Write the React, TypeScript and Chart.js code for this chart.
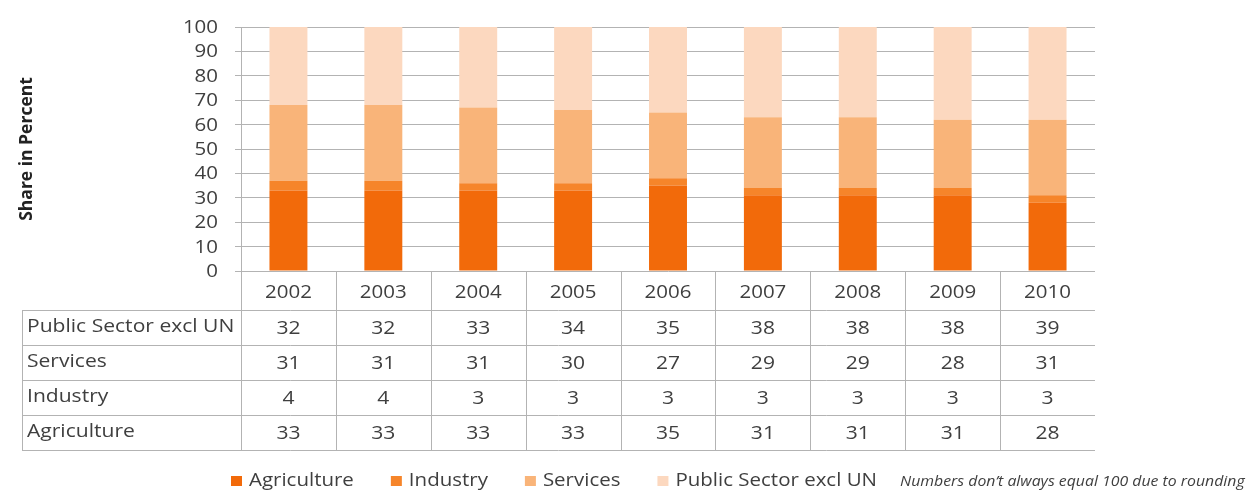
import React, { useEffect, useRef } from "react";
import { Chart, registerables } from "chart.js";

Chart.register(...registerables);

const years = ["2002", "2003", "2004", "2005", "2006", "2007", "2008", "2009", "2010"];
const agriculture = [33, 33, 33, 33, 35, 31, 31, 31, 28];
const industry = [4, 4, 3, 3, 3, 3, 3, 3, 3];
const services = [31, 31, 31, 30, 27, 29, 29, 28, 31];
const publicSector = [32, 32, 33, 34, 35, 38, 38, 38, 39];
const seriesNames = ["Agriculture", "Industry", "Services", "Public Sector excl UN"];
const seriesColors = ["#F26A0A", "#F6852A", "#F9B479", "#FCD8BF"];
const yTickValues = [0, 10, 20, 30, 40, 50, 60, 70, 80, 90, 100];
const yTitle = "Share in Percent";
const note = "Numbers don\u2019t always equal 100 due to rounding";

const FONT = "'Open Sans', 'Noto Sans', sans-serif";
const TEXT = "#3F3F3F";
const LINE = "#B3B3B3";
const STRETCH = 1.17;

function drawStretched(
  ctx: CanvasRenderingContext2D,
  text: string,
  x: number,
  y: number,
  align: "left" | "center" | "right",
  sx: number
) {
  const w = ctx.measureText(text).width * sx;
  let left = x;
  if (align === "center") left = x - w / 2;
  else if (align === "right") left = x - w;
  ctx.save();
  ctx.translate(left, y);
  ctx.scale(sx, 1);
  ctx.textAlign = "left";
  ctx.fillText(text, 0, 0);
  ctx.restore();
}

const tablePlugin = {
  id: "dataTable",
  afterDraw(chart: any) {
    const ctx = chart.ctx as CanvasRenderingContext2D;
    const area = chart.chartArea;
    const xs = chart.scales.x;
    const ys = chart.scales.y;
    const n = years.length;
    const colW = xs.getPixelForValue(1) - xs.getPixelForValue(0);
    const left = xs.getPixelForValue(0) - colW / 2;
    const right = area.right;
    const labelLeft = 22;
    const headerTop = area.bottom;
    const headerBottom = headerTop + 39;
    const rowH = 35;
    const rows = [
      { name: seriesNames[3], values: publicSector },
      { name: seriesNames[2], values: services },
      { name: seriesNames[1], values: industry },
      { name: seriesNames[0], values: agriculture },
    ];
    const tableBottom = headerBottom + rowH * rows.length;

    ctx.save();
    // y tick labels
    ctx.fillStyle = TEXT;
    ctx.textBaseline = "middle";
    ctx.font = `17.5px ${FONT}`;
    ys.ticks.forEach((t: any) => {
      drawStretched(ctx, String(t.value), 218, ys.getPixelForValue(t.value) + 1, "right", STRETCH);
    });

    ctx.strokeStyle = LINE;
    ctx.lineWidth = 1;
    for (let r = 0; r <= rows.length; r++) {
      const y = Math.round(headerBottom + r * rowH) + 0.5;
      ctx.beginPath();
      ctx.moveTo(labelLeft, y);
      ctx.lineTo(right, y);
      ctx.stroke();
    }
    for (let c = 0; c < n; c++) {
      const x = Math.round(left + c * colW) + 0.5;
      ctx.beginPath();
      ctx.moveTo(x, headerTop);
      ctx.lineTo(x, tableBottom);
      ctx.stroke();
    }
    ctx.beginPath();
    ctx.moveTo(labelLeft + 0.5, headerBottom);
    ctx.lineTo(labelLeft + 0.5, tableBottom);
    ctx.stroke();

    ctx.fillStyle = TEXT;
    ctx.font = `18px ${FONT}`;
    years.forEach((yr, i) => {
      drawStretched(ctx, yr, xs.getPixelForValue(i), (headerTop + headerBottom) / 2 + 2, "center", 1.14);
    });
    rows.forEach((row, r) => {
      const cy = headerBottom + r * rowH + rowH / 2;
      drawStretched(ctx, row.name, labelLeft + 5, cy - 1, "left", STRETCH);
      row.values.forEach((v, i) => {
        drawStretched(ctx, String(v), xs.getPixelForValue(i), cy + 1, "center", STRETCH);
      });
    });

    // legend
    const ly = 481;
    let lx = 231;
    ctx.font = `17.5px ${FONT}`;
    chart.data.datasets.forEach((ds: any) => {
      ctx.fillStyle = ds.backgroundColor;
      ctx.fillRect(lx, ly - 5, 11, 10);
      ctx.fillStyle = TEXT;
      drawStretched(ctx, ds.label, lx + 18, ly, "left", STRETCH);
      lx += 18 + ctx.measureText(ds.label).width * STRETCH + 37;
    });
    ctx.font = `italic 15px ${FONT}`;
    ctx.fillStyle = TEXT;
    drawStretched(ctx, note, 900, ly + 1, "left", 1.055);
    ctx.restore();
  },
};

export default function App() {
  const ref = useRef<HTMLCanvasElement | null>(null);
  useEffect(() => {
    if (!ref.current) return;
    const seriesData = [agriculture, industry, services, publicSector];
    const chart = new Chart(ref.current, {
      type: "bar",
      data: {
        labels: years,
        datasets: seriesNames.map((name, i) => ({
          label: name,
          data: seriesData[i],
          backgroundColor: seriesColors[i],
          borderWidth: 0,
          barPercentage: 0.4,
          categoryPercentage: 1,
        })),
      },
      options: {
        animation: false,
        responsive: true,
        maintainAspectRatio: false,
        layout: { padding: { left: 0, top: 27, right: 153, bottom: 219 } },
        plugins: {
          legend: { display: false },
          tooltip: { enabled: false },
        },
        scales: {
          x: {
            stacked: true,
            display: false,
          },
          y: {
            stacked: true,
            min: 0,
            max: 100,
            afterFit(scale: any) {
              scale.width = 241;
            },
            afterBuildTicks(scale: any) {
              scale.ticks = yTickValues.map((v) => ({ value: v }));
            },
            ticks: {
              font: { family: FONT, size: 17.5 },
              color: "rgba(0,0,0,0)",
              padding: 16,
            },
            grid: {
              color: LINE,
              tickLength: 6,
            },
            border: { display: true, color: LINE },
            title: {
              display: true,
              text: yTitle,
              font: { family: FONT, size: 17.5, weight: "bold" },
              color: "#222222",
              padding: { top: 17, bottom: 0 },
            },
          },
        },
      },
      plugins: [tablePlugin],
    });
    return () => chart.destroy();
  }, []);
  return (
    <div style={{ position: "absolute", left: 0, top: 0, width: 1248, height: 490, background: "#fff" }}>
      <canvas ref={ref} />
    </div>
  );
}
